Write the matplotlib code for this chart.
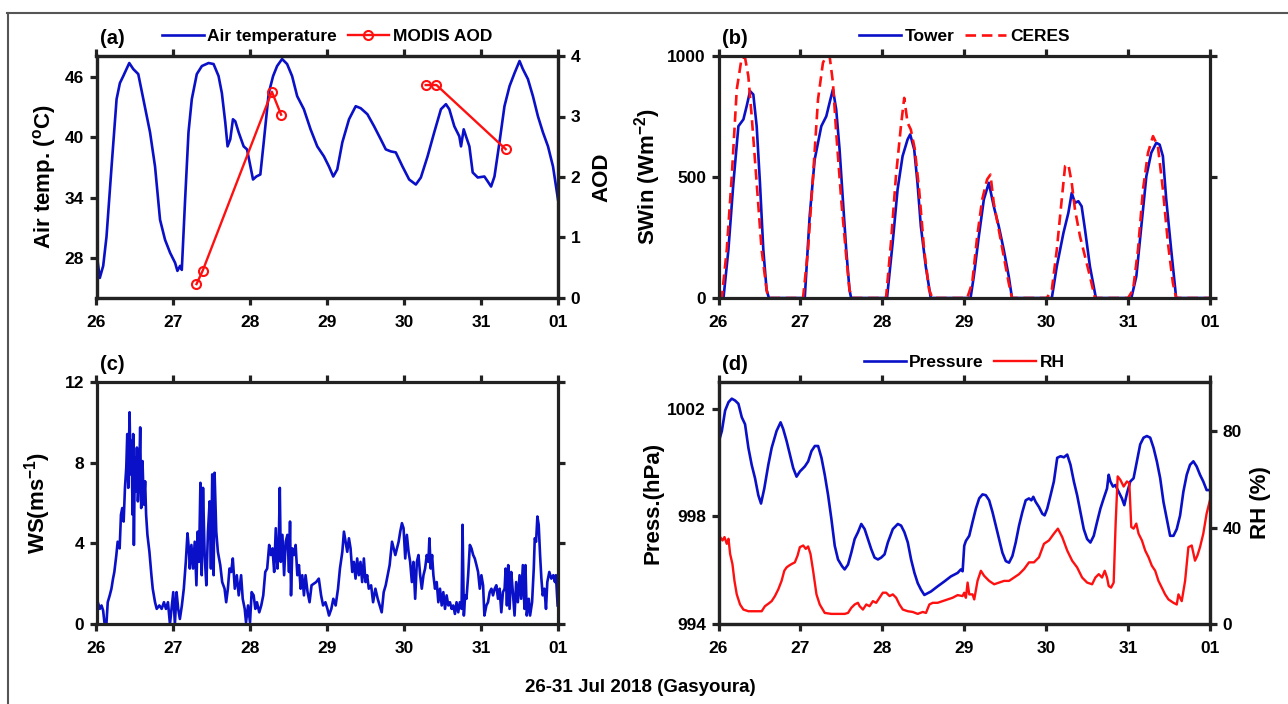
"""Four-panel met summary for Gasyoura, 26-31 Jul 2018."""

import matplotlib

matplotlib.use("Agg")
import matplotlib.pyplot as plt
import numpy as np
from matplotlib.lines import Line2D

plt.rcParams["font.family"] = ["Liberation Sans", "DejaVu Sans"]
plt.rcParams["font.weight"] = "bold"
plt.rcParams["axes.labelweight"] = "bold"
plt.rcParams["mathtext.fontset"] = "custom"
plt.rcParams["mathtext.rm"] = "Liberation Sans:bold"
plt.rcParams["mathtext.it"] = "Liberation Sans:bold"
plt.rcParams["mathtext.bf"] = "Liberation Sans:bold"

DAY_TICKS = [26, 27, 28, 29, 30, 31, 32]
DAY_LABELS = ["26", "27", "28", "29", "30", "31", "01"]

# (a) air temperature and MODIS AOD
temp_day = [26.000, 26.043, 26.087, 26.130, 26.196, 26.261, 26.304, 26.348, 26.426, 26.478,
            26.543, 26.609, 26.696, 26.761, 26.826, 26.891, 26.957, 27.022, 27.052, 27.087,
            27.109, 27.152, 27.196, 27.239, 27.304, 27.370, 27.457, 27.522, 27.587, 27.630,
            27.674, 27.704, 27.739, 27.774, 27.804, 27.848, 27.913, 27.957, 27.991, 28.035,
            28.078, 28.130, 28.174, 28.239, 28.296, 28.348, 28.413, 28.478, 28.543, 28.609,
            28.696, 28.783, 28.870, 28.957, 29.022, 29.078, 29.130, 29.196, 29.283, 29.370,
            29.435, 29.522, 29.609, 29.696, 29.761, 29.826, 29.891, 29.978, 30.065, 30.152,
            30.217, 30.304, 30.391, 30.478, 30.543, 30.587, 30.652, 30.717, 30.739, 30.774,
            30.804, 30.848, 30.891, 30.957, 31.043, 31.087, 31.130, 31.174, 31.239, 31.304,
            31.370, 31.435, 31.500, 31.543, 31.609, 31.674, 31.739, 31.804, 31.870, 31.935,
            32.000]
temp_c = [28.5, 26.0, 27.2, 30.1, 37.1, 43.8, 45.4, 46.1, 47.4, 46.8,
          46.3, 43.8, 40.5, 37.1, 31.8, 29.8, 28.5, 27.5, 26.7, 27.2,
          26.8, 33.8, 40.5, 43.8, 46.3, 47.1, 47.4, 47.3, 46.1, 44.4,
          41.5, 39.1, 39.8, 41.8, 41.6, 40.5, 39.1, 38.8, 37.5, 35.8,
          36.1, 36.3, 39.5, 44.4, 46.1, 47.1, 47.8, 47.3, 46.1, 44.1,
          42.8, 40.8, 39.1, 38.1, 37.1, 36.1, 36.8, 39.5, 41.8, 43.1,
          42.9, 42.3, 41.1, 39.8, 38.8, 38.6, 38.5, 37.1, 35.8, 35.3,
          36.0, 38.1, 40.5, 42.8, 43.3, 42.8, 41.1, 40.1, 39.1, 40.8,
          40.1, 39.1, 36.5, 36.0, 36.1, 35.6, 35.1, 36.1, 39.5, 43.1,
          45.1, 46.4, 47.6, 46.8, 45.8, 44.1, 42.1, 40.5, 39.1, 37.1,
          33.8]
aod_day = [27.30, 27.38, 28.28, 28.40, np.nan, 30.28, 30.42, 31.32]
aod = [0.23, 0.45, 3.41, 3.03, np.nan, 3.52, 3.52, 2.46]

# (b) incoming shortwave
tower_day = [26.000, 26.061, 26.121, 26.182, 26.243, 26.304, 26.344, 26.385, 26.425, 26.466,
             26.506, 26.547, 26.587, 26.615, 27.053, 27.113, 27.174, 27.255, 27.316, 27.356,
             27.397, 27.437, 27.478, 27.518, 27.559, 27.599, 27.619, 28.057, 28.126, 28.186,
             28.247, 28.308, 28.340, 28.389, 28.429, 28.470, 28.530, 28.591, 29.077, 29.117,
             29.178, 29.239, 29.300, 29.360, 29.421, 29.482, 29.543, 29.583, 30.069, 30.130,
             30.211, 30.271, 30.312, 30.352, 30.393, 30.433, 30.474, 30.534, 30.607, 31.040,
             31.101, 31.162, 31.223, 31.283, 31.344, 31.385, 31.425, 31.466, 31.526, 31.587,
             32.000]
tower_sw = [0, 0, 200, 476, 710, 738, 793, 855, 841, 710,
            476, 200, 34, 0, 0, 338, 572, 710, 751, 807,
            862, 779, 614, 407, 200, 34, 0, 0, 228, 448,
            586, 655, 676, 614, 476, 297, 131, 0, 0, 90,
            255, 407, 476, 379, 297, 200, 90, 0, 0, 131,
            269, 352, 434, 393, 400, 379, 283, 131, 0, 0,
            90, 297, 503, 600, 641, 634, 586, 407, 200, 0,
            0]
ceres_day = [26.000, 26.040, 26.101, 26.162, 26.223, 26.283, 26.324, 26.364, 26.405, 26.466,
             26.526, 26.587, 26.607, 27.032, 27.093, 27.154, 27.215, 27.275, 27.316, 27.356,
             27.397, 27.437, 27.498, 27.559, 27.599, 27.628, 28.045, 28.105, 28.166, 28.227,
             28.267, 28.308, 28.348, 28.397, 28.449, 28.510, 28.571, 28.611, 29.036, 29.097,
             29.158, 29.219, 29.279, 29.320, 29.360, 29.421, 29.482, 29.543, 29.583, 30.008,
             30.069, 30.130, 30.190, 30.231, 30.271, 30.312, 30.352, 30.413, 30.474, 30.534,
             30.595, 31.000, 31.061, 31.121, 31.182, 31.243, 31.304, 31.364, 31.425, 31.486,
             31.547, 31.587, 32.000]
ceres_sw = [0, 0, 200, 503, 862, 993, 993, 917, 752, 476,
            200, 34, 0, 0, 200, 503, 821, 972, 1000, 1000,
            890, 683, 407, 172, 34, 0, 0, 228, 503, 710,
            827, 724, 696, 614, 448, 200, 34, 0, 0, 62,
            255, 407, 490, 510, 393, 283, 172, 62, 0, 0,
            34, 200, 407, 545, 552, 476, 365, 255, 172, 90,
            0, 0, 34, 200, 448, 600, 669, 627, 448, 228,
            62, 0, 0]

# (c) wind speed
ws_day = [26.000, 26.017, 26.043, 26.065, 26.086, 26.103, 26.129, 26.146, 26.172, 26.194,
          26.215, 26.232, 26.258, 26.275, 26.301, 26.318, 26.335, 26.353, 26.370, 26.387,
          26.400, 26.413, 26.430, 26.443, 26.456, 26.469, 26.477, 26.486, 26.499, 26.512,
          26.525, 26.538, 26.555, 26.568, 26.581, 26.598, 26.615, 26.632, 26.645, 26.662,
          26.688, 26.714, 26.731, 26.761, 26.783, 26.817, 26.847, 26.877, 26.903, 26.929,
          26.955, 26.976, 26.998, 27.019, 27.041, 27.062, 27.084, 27.110, 27.135, 27.161,
          27.183, 27.200, 27.213, 27.234, 27.256, 27.277, 27.299, 27.316, 27.333, 27.351,
          27.368, 27.385, 27.406, 27.428, 27.449, 27.471, 27.488, 27.505, 27.523, 27.535,
          27.557, 27.578, 27.609, 27.634, 27.665, 27.686, 27.708, 27.729, 27.751, 27.772,
          27.798, 27.824, 27.849, 27.880, 27.901, 27.927, 27.944, 27.970, 27.996, 28.017,
          28.043, 28.065, 28.086, 28.116, 28.142, 28.168, 28.194, 28.219, 28.245, 28.267,
          28.288, 28.310, 28.331, 28.353, 28.370, 28.383, 28.396, 28.417, 28.439, 28.460,
          28.482, 28.503, 28.516, 28.529, 28.546, 28.568, 28.589, 28.611, 28.632, 28.654,
          28.675, 28.697, 28.718, 28.744, 28.770, 28.796, 28.826, 28.856, 28.890, 28.920,
          28.946, 28.976, 29.002, 29.023, 29.053, 29.079, 29.109, 29.140, 29.165, 29.196,
          29.217, 29.239, 29.260, 29.282, 29.303, 29.325, 29.346, 29.368, 29.389, 29.411,
          29.432, 29.454, 29.476, 29.497, 29.519, 29.540, 29.570, 29.596, 29.626, 29.656,
          29.682, 29.708, 29.734, 29.760, 29.786, 29.811, 29.842, 29.863, 29.885, 29.906,
          29.928, 29.949, 29.971, 29.992, 30.014, 30.035, 30.057, 30.078, 30.100, 30.121,
          30.143, 30.165, 30.186, 30.208, 30.229, 30.251, 30.272, 30.294, 30.315, 30.328,
          30.345, 30.363, 30.380, 30.401, 30.423, 30.444, 30.466, 30.488, 30.509, 30.531,
          30.552, 30.574, 30.595, 30.617, 30.638, 30.660, 30.681, 30.703, 30.724, 30.746,
          30.759, 30.776, 30.793, 30.810, 30.832, 30.854, 30.875, 30.897, 30.918, 30.940,
          30.961, 30.983, 31.004, 31.026, 31.043, 31.069, 31.090, 31.112, 31.134, 31.155,
          31.177, 31.198, 31.220, 31.241, 31.263, 31.284, 31.306, 31.319, 31.336, 31.353,
          31.370, 31.392, 31.413, 31.435, 31.456, 31.478, 31.500, 31.521, 31.543, 31.564,
          31.577, 31.594, 31.620, 31.637, 31.663, 31.685, 31.698, 31.715, 31.732, 31.749,
          31.767, 31.784, 31.801, 31.823, 31.844, 31.861, 31.887, 31.913, 31.939, 31.960,
          31.973, 31.995]
ws = [1.58, 1.08, 0.75, 0.92, 0.67, 0.08, 0.00, 1.08, 1.42, 1.75,
      2.25, 2.58, 3.42, 4.08, 3.75, 5.42, 5.75, 5.08, 6.75, 7.75,
      9.42, 6.75, 10.50, 7.42, 9.08, 5.42, 9.42, 3.92, 8.25, 6.58,
      8.75, 6.08, 7.42, 9.75, 5.75, 8.08, 5.92, 7.08, 5.42, 4.42,
      3.58, 2.42, 1.75, 1.08, 0.75, 0.92, 0.75, 1.08, 0.75, 1.08,
      0.00, 0.75, 1.58, 0.00, 1.58, 0.75, 0.25, 0.92, 1.75, 3.08,
      4.50, 3.75, 2.75, 3.92, 2.75, 4.08, 1.92, 4.58, 3.08, 7.00,
      2.42, 6.75, 3.42, 1.92, 4.58, 6.08, 2.75, 7.42, 2.42, 7.50,
      4.58, 3.58, 2.92, 2.08, 1.75, 1.08, 1.75, 2.75, 2.58, 3.25,
      1.75, 2.42, 1.42, 2.42, 1.25, 0.75, 0.08, 0.92, 0.08, 1.58,
      1.42, 0.75, 1.08, 0.58, 0.92, 1.42, 2.58, 2.75, 3.92, 3.42,
      3.75, 2.58, 4.75, 2.75, 4.08, 6.75, 3.08, 4.42, 2.42, 4.08,
      4.42, 2.58, 5.08, 1.42, 3.75, 3.42, 3.92, 2.42, 2.92, 1.75,
      2.42, 1.42, 2.42, 1.58, 1.08, 1.92, 2.00, 2.08, 2.25, 1.42,
      0.92, 1.08, 0.75, 0.42, 0.75, 1.25, 0.92, 1.75, 2.75, 3.58,
      4.58, 4.08, 3.58, 4.25, 3.75, 2.58, 3.08, 2.25, 3.25, 2.42,
      3.08, 2.08, 3.25, 2.08, 2.42, 1.75, 1.92, 1.08, 1.75, 1.25,
      0.92, 0.58, 1.58, 1.92, 2.42, 2.92, 4.08, 3.75, 3.42, 3.75,
      4.08, 4.58, 5.00, 4.75, 3.25, 4.42, 3.58, 3.08, 2.08, 3.08,
      1.25, 3.08, 3.42, 2.42, 1.75, 2.42, 2.75, 3.42, 3.08, 4.25,
      2.75, 3.42, 2.42, 1.75, 2.08, 1.08, 1.75, 0.92, 1.58, 0.75,
      1.42, 0.92, 1.08, 0.75, 0.92, 0.50, 1.08, 0.58, 1.08, 0.75,
      4.92, 0.42, 1.42, 1.25, 2.42, 3.92, 3.75, 3.42, 3.25, 2.92,
      2.58, 1.75, 2.42, 1.92, 0.42, 0.92, 1.08, 1.58, 1.75, 1.42,
      1.75, 1.92, 1.25, 1.75, 0.58, 1.58, 1.75, 2.75, 0.92, 2.92,
      0.75, 2.58, 1.58, 0.42, 2.08, 1.08, 2.42, 1.25, 2.92, 0.75,
      2.92, 0.42, 1.25, 0.42, 1.08, 2.75, 4.25, 4.08, 5.33, 4.92,
      3.42, 2.25, 1.42, 1.75, 0.75, 2.08, 2.58, 2.25, 2.42, 2.08,
      2.42, 0.92]

# (d) pressure and relative humidity
press_day = [26.000, 26.041, 26.081, 26.122, 26.162, 26.203, 26.243, 26.284, 26.324, 26.365,
             26.405, 26.446, 26.486, 26.519, 26.559, 26.608, 26.649, 26.709, 26.758, 26.790,
             26.831, 26.872, 26.912, 26.953, 26.993, 27.054, 27.095, 27.135, 27.176, 27.216,
             27.257, 27.297, 27.338, 27.378, 27.419, 27.459, 27.508, 27.540, 27.581, 27.621,
             27.662, 27.702, 27.743, 27.784, 27.824, 27.865, 27.905, 27.946, 27.986, 28.027,
             28.067, 28.128, 28.189, 28.229, 28.270, 28.311, 28.351, 28.392, 28.432, 28.473,
             28.513, 28.594, 28.675, 28.756, 28.837, 28.919, 28.959, 28.980, 29.000, 29.020,
             29.061, 29.101, 29.142, 29.182, 29.223, 29.263, 29.304, 29.345, 29.385, 29.426,
             29.466, 29.507, 29.547, 29.588, 29.628, 29.669, 29.709, 29.750, 29.790, 29.819,
             29.843, 29.872, 29.912, 29.953, 29.981, 30.013, 30.054, 30.094, 30.135, 30.176,
             30.216, 30.257, 30.297, 30.338, 30.378, 30.419, 30.459, 30.500, 30.540, 30.581,
             30.621, 30.662, 30.702, 30.743, 30.763, 30.784, 30.816, 30.844, 30.885, 30.925,
             30.954, 30.986, 31.027, 31.067, 31.108, 31.148, 31.189, 31.229, 31.270, 31.311,
             31.351, 31.392, 31.432, 31.473, 31.513, 31.554, 31.594, 31.635, 31.675, 31.716,
             31.756, 31.797, 31.837, 31.878, 31.918, 31.959, 32.000]
press_hpa = [1000.74, 1001.18, 1001.94, 1002.25, 1002.38, 1002.31, 1002.19, 1001.69, 1001.43, 1000.55,
             999.92, 999.42, 998.79, 998.48, 999.04, 999.92, 1000.55, 1001.18, 1001.50, 1001.25,
             1000.81, 1000.30, 999.80, 999.48, 999.67, 999.86, 1000.05, 1000.43, 1000.62, 1000.62,
             1000.18, 999.55, 998.79, 997.91, 996.91, 996.40, 996.15, 996.03, 996.21, 996.65,
             997.16, 997.41, 997.72, 997.53, 997.16, 996.78, 996.47, 996.40, 996.47, 996.59,
             997.03, 997.53, 997.72, 997.66, 997.41, 997.03, 996.40, 995.90, 995.52, 995.27,
             995.08, 995.21, 995.40, 995.58, 995.77, 995.90, 996.03, 995.96, 996.91, 997.09,
             997.28, 997.79, 998.29, 998.67, 998.82, 998.79, 998.60, 998.16, 997.66, 997.16,
             996.65, 996.34, 996.28, 996.53, 997.03, 997.66, 998.16, 998.60, 998.67, 998.60,
             998.73, 998.54, 998.35, 998.10, 998.04, 998.29, 998.79, 999.30, 1000.18, 1000.24,
             1000.20, 1000.30, 999.92, 999.30, 998.79, 998.16, 997.53, 997.16, 997.03, 997.28,
             997.79, 998.29, 998.67, 999.04, 999.55, 999.30, 999.11, 999.17, 998.92, 998.67,
             998.42, 998.86, 999.30, 999.42, 1000.05, 1000.68, 1000.93, 1000.99, 1000.93, 1000.55,
             1000.05, 999.42, 998.54, 997.91, 997.28, 997.28, 997.53, 998.04, 998.92, 999.55,
             999.92, 1000.05, 999.86, 999.55, 999.30, 998.98, 998.98]
rh_day = [26.000, 26.020, 26.049, 26.073, 26.101, 26.122, 26.142, 26.170, 26.195, 26.223,
          26.263, 26.304, 26.365, 26.446, 26.527, 26.567, 26.608, 26.649, 26.689, 26.730,
          26.770, 26.803, 26.831, 26.859, 26.892, 26.932, 26.965, 26.993, 27.034, 27.066,
          27.094, 27.123, 27.155, 27.196, 27.236, 27.297, 27.378, 27.459, 27.540, 27.581,
          27.621, 27.662, 27.702, 27.723, 27.763, 27.804, 27.844, 27.885, 27.925, 27.966,
          28.006, 28.047, 28.088, 28.128, 28.169, 28.209, 28.250, 28.311, 28.371, 28.432,
          28.493, 28.533, 28.574, 28.615, 28.675, 28.736, 28.797, 28.858, 28.919, 28.979,
          29.000, 29.020, 29.041, 29.061, 29.101, 29.122, 29.162, 29.203, 29.243, 29.304,
          29.365, 29.426, 29.486, 29.547, 29.608, 29.669, 29.730, 29.790, 29.851, 29.912,
          29.973, 30.034, 30.094, 30.143, 30.196, 30.257, 30.317, 30.378, 30.439, 30.500,
          30.561, 30.601, 30.642, 30.682, 30.715, 30.743, 30.763, 30.792, 30.824, 30.848,
          30.873, 30.905, 30.946, 30.986, 31.015, 31.039, 31.067, 31.100, 31.128, 31.169,
          31.209, 31.250, 31.290, 31.331, 31.371, 31.412, 31.452, 31.493, 31.554, 31.594,
          31.615, 31.655, 31.696, 31.736, 31.777, 31.817, 31.846, 31.878, 31.918, 31.959,
          32.000]
rh_pct = [31.9, 36.1, 34.7, 36.1, 33.3, 35.4, 29.1, 24.9, 17.9, 12.3,
          8.1, 6.0, 5.3, 5.3, 5.3, 7.4, 8.4, 9.5, 11.6, 14.4,
          17.9, 22.1, 23.5, 24.2, 24.9, 25.6, 28.4, 31.9, 32.6, 31.2,
          32.2, 29.1, 22.1, 12.3, 8.1, 4.6, 4.2, 4.2, 4.2, 4.6,
          6.7, 8.1, 8.8, 7.4, 6.0, 8.1, 7.4, 9.5, 8.8, 10.9,
          13.0, 13.0, 11.6, 12.3, 10.9, 8.1, 6.0, 5.3, 5.0, 4.2,
          5.0, 4.6, 8.1, 8.8, 8.8, 9.5, 10.2, 10.9, 12.0, 11.6,
          13.0, 10.9, 17.2, 12.3, 12.3, 10.2, 17.9, 22.1, 20.0, 17.9,
          16.5, 17.2, 17.9, 17.9, 19.3, 20.7, 22.8, 25.6, 25.6, 27.7,
          33.3, 34.7, 37.5, 39.6, 36.1, 30.5, 26.3, 23.5, 19.3, 17.2,
          16.5, 19.3, 20.7, 19.3, 22.1, 19.3, 15.8, 15.1, 17.2, 41.7,
          61.3, 59.9, 57.1, 59.2, 58.5, 40.3, 39.6, 41.7, 37.5, 34.7,
          30.5, 27.7, 24.2, 22.1, 17.9, 15.1, 12.3, 10.2, 8.8, 8.1,
          12.3, 9.5, 17.9, 31.9, 32.6, 26.3, 28.4, 31.9, 37.5, 45.9,
          51.5]

BLUE = "#0a10c8"
RED = "#ff1010"
SPINE = "#222222"
TICK_SIZE = 12.5
YLABEL_SIZE = 16
TAG_SIZE = 14.5
LEGEND_SIZE = 12.5


def style_spines(ax):
    for side in ax.spines.values():
        side.set_linewidth(2.3)
        side.set_color(SPINE)


def style_axes(ax, right=True, top=True):
    style_spines(ax)
    ax.tick_params(direction="out", length=5, width=2.3, color=SPINE,
                   labelsize=TICK_SIZE, top=top, right=right, pad=4)
    ax.tick_params(axis="x", pad=7)
    ax.set_xlim(26, 32)
    ax.set_xticks(DAY_TICKS)
    ax.set_xticklabels(DAY_LABELS)


def style_twin(ax):
    style_spines(ax)
    ax.tick_params(direction="out", length=5, width=2.3, color=SPINE,
                   labelsize=TICK_SIZE, pad=4)


def panel_tag(ax, tag, y=1.035):
    ax.text(0.008, y, tag, transform=ax.transAxes, ha="left", va="bottom",
            fontsize=TAG_SIZE, fontweight="bold")


def top_legend(ax, handles, labels):
    ax.legend(handles, labels, loc="lower center", bbox_to_anchor=(0.5, 1.02), ncol=2,
              frameon=False, fontsize=LEGEND_SIZE, handlelength=2.4, handletextpad=0.2,
              columnspacing=0.6, borderaxespad=0.0, numpoints=1)


fig = plt.figure(figsize=(12.88, 7.04), dpi=100)
W, H = 1288.0, 704.0


def box(left, top, right, bottom):
    return [left / W, 1 - bottom / H, (right - left) / W, (bottom - top) / H]


# (a)
ax_a = fig.add_axes(box(96.5, 56, 558, 298))
ax_a.plot(temp_day, temp_c, color=BLUE, lw=1.9, label="Air temperature")
ax_a.set_ylim(24.0, 48.1)
ax_a.set_yticks([28, 34, 40, 46])
ax_a.set_ylabel("Air temp. ($^{\\rm o}$C)", fontsize=YLABEL_SIZE, labelpad=5)
ax_aod = ax_a.twinx()
ax_aod.plot(aod_day, aod, color=RED, lw=1.7, marker="o", ms=6.5, mfc="none", mew=1.5,
            label="MODIS AOD")
ax_aod.set_ylim(0, 4)
ax_aod.set_yticks([0, 1, 2, 3, 4])
ax_aod.set_ylabel("AOD", fontsize=YLABEL_SIZE, labelpad=8)
style_axes(ax_a, right=False)
style_twin(ax_aod)
h1, l1 = ax_a.get_legend_handles_labels()
h2, l2 = ax_aod.get_legend_handles_labels()
top_legend(ax_aod, h1 + h2, l1 + l2)
panel_tag(ax_a, "(a)")

# (b)
ax_b = fig.add_axes(box(718.5, 56, 1210, 298))
ax_b.plot(tower_day, tower_sw, color=BLUE, lw=1.9, label="Tower")
ax_b.plot(ceres_day, ceres_sw, color=RED, lw=1.9, ls=(0, (4, 2.2)), label="CERES")
ax_b.set_ylim(0, 1000)
ax_b.set_yticks([0, 500, 1000])
ax_b.set_ylabel("SWin (Wm$^{-2}$)", fontsize=YLABEL_SIZE, labelpad=3)
style_axes(ax_b)
top_legend(ax_b, *ax_b.get_legend_handles_labels())
panel_tag(ax_b, "(b)")

# (c)
ax_c = fig.add_axes(box(96.5, 382, 558, 624))
ax_c.plot(ws_day, ws, color=BLUE, lw=1.9)
ax_c.set_ylim(0, 12)
ax_c.set_yticks([0, 4, 8, 12])
ax_c.set_ylabel("WS(ms$^{-1}$)", fontsize=YLABEL_SIZE, labelpad=8)
style_axes(ax_c)
panel_tag(ax_c, "(c)")

# (d)
ax_d = fig.add_axes(box(718.5, 382, 1210, 624))
ax_d.plot(press_day, press_hpa, color=BLUE, lw=1.9, label="Pressure")
ax_d.set_ylim(994, 1003)
ax_d.set_yticks([994, 998, 1002])
ax_d.set_ylabel("Press.(hPa)", fontsize=YLABEL_SIZE, labelpad=3)
ax_rh = ax_d.twinx()
ax_rh.plot(rh_day, rh_pct, color=RED, lw=1.7, label="RH")
ax_rh.set_ylim(0, 100.5)
ax_rh.set_yticks([0, 40, 80])
ax_rh.set_ylabel("RH (%)", fontsize=YLABEL_SIZE, labelpad=6)
style_axes(ax_d, right=False)
style_twin(ax_rh)
h1, l1 = ax_d.get_legend_handles_labels()
h2, l2 = ax_rh.get_legend_handles_labels()
top_legend(ax_rh, h1 + h2, l1 + l2)
panel_tag(ax_d, "(d)")

fig.text(640 / W, 1 - 688 / H, "26-31 Jul 2018 (Gasyoura)", ha="center", va="center",
         fontsize=13.5, fontweight="bold")

# thin frame along the top and left edge, as in the source figure
fig.add_artist(Line2D([7 / W, 1.0], [1 - 13 / H, 1 - 13 / H], color="#555555", lw=1.5))
fig.add_artist(Line2D([8 / W, 8 / W], [0.0, 1 - 13 / H], color="#555555", lw=1.5))

fig.savefig("out.png", dpi=100)
